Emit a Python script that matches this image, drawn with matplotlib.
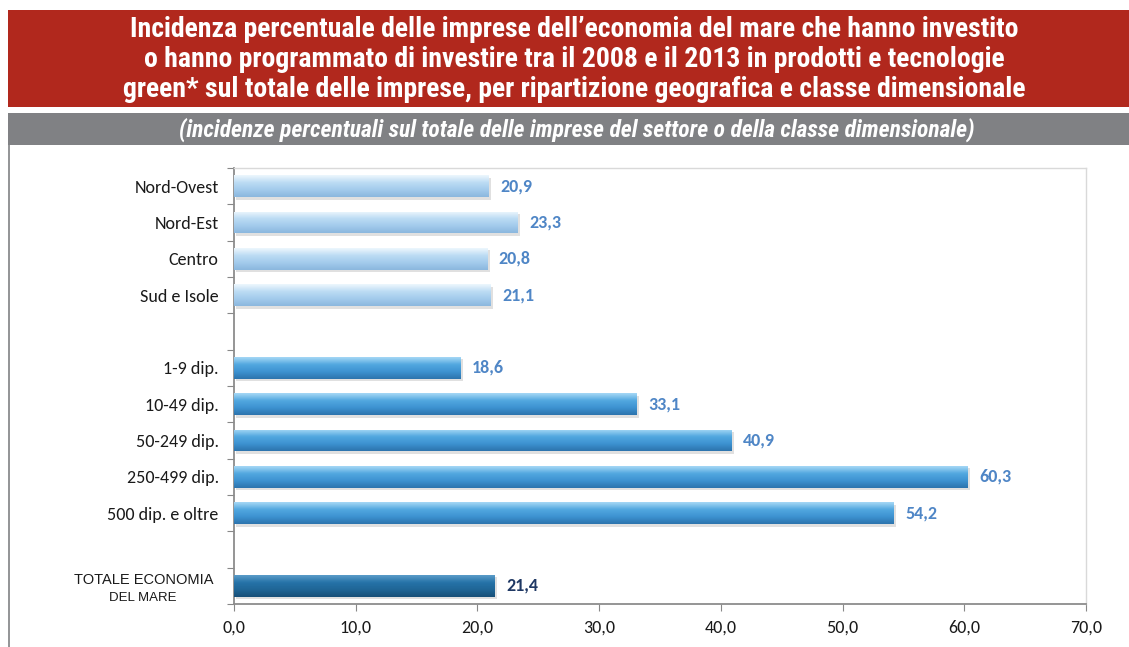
import matplotlib
matplotlib.use("Agg")
import matplotlib.pyplot as plt
import numpy as np
from matplotlib.patches import Rectangle
from matplotlib.colors import LinearSegmentedColormap
import matplotlib.transforms as mtransforms
import logging
logging.getLogger("matplotlib.font_manager").setLevel(logging.ERROR)

# ---- data ----
regions = ["Nord-Ovest", "Nord-Est", "Centro", "Sud e Isole"]
region_vals = [20.9, 23.3, 20.8, 21.1]
sizes = ["1-9 dip.", "10-49 dip.", "50-249 dip.", "250-499 dip.", "500 dip. e oltre"]
size_vals = [18.6, 33.1, 40.9, 60.3, 54.2]
total_label = ["TOTALE ECONOMIA", "DEL MARE"]
total_val = 21.4
x_ticks = [0, 10, 20, 30, 40, 50, 60, 70]

title = ("Incidenza percentuale delle imprese dell\u2019economia del mare che hanno investito\n"
         "o hanno programmato di investire tra il 2008 e il 2013 in prodotti e tecnologie\n"
         "green* sul totale delle imprese, per ripartizione geografica e classe dimensionale")
subtitle = "(incidenze percentuali sul totale delle imprese del settore o della classe dimensionale)"

W, H = 1129, 647
fig = plt.figure(figsize=(W / 100, H / 100), dpi=100)

# ---- banners ----
fig.patches.append(Rectangle((8 / W, 1 - 107 / H), 1 - 8 / W, 97 / H, transform=fig.transFigure,
                             facecolor="#b1281d", edgecolor="none", zorder=0))
fig.patches.append(Rectangle((8 / W, 1 - 145 / H), 1 - 8 / W, 32 / H, transform=fig.transFigure,
                             facecolor="#808184", edgecolor="none", zorder=0))
fig.lines.append(plt.Line2D([8.5 / W, 8.5 / W], [0, 1 - 145 / H], transform=fig.transFigure,
                            color="#808184", lw=1.2))
title_font = ["Roboto Condensed", "DejaVu Sans"]
fig.text(0.5 + 10 / W, 1 - 59.5 / H, title, ha="center", va="center", color="white",
         fontsize=20, fontweight="bold", family=title_font, linespacing=1.13)
fig.text(0.5 + 12 / W, 1 - 129.5 / H, subtitle, ha="center", va="center", color="white",
         fontsize=17, fontweight="bold", style="italic", family=title_font)

# ---- axes ----
ax = fig.add_axes([234 / W, 43 / H, (1086 - 234) / W, (604 - 168) / H])

body_font = ["Carlito", "Open Sans", "DejaVu Sans"]
labels = regions + [""] + sizes + [""] + [""]
n = len(labels)
pos_regions = list(range(len(regions)))
pos_sizes = [len(regions) + 1 + i for i in range(len(sizes))]
pos_total = len(regions) + 1 + len(sizes) + 1

groups = [
    (pos_regions, region_vals, ["#eef7fd", "#bcdcf4", "#a3cbec", "#8bb7de"], "#4f86c6"),
    (pos_sizes, size_vals, ["#a6d8f6", "#52a8e0", "#3d92d1", "#2c74ad"], "#4f86c6"),
    ([pos_total], [total_val], ["#5b9cc9", "#2673a8", "#1f6596", "#174f78"], "#1f3864"),
]

bh = 0.6
for pos, vals, cols, lblcol in groups:
    cmap = LinearSegmentedColormap.from_list("g", cols)
    grad = np.linspace(0, 1, 64).reshape(-1, 1)
    for p, v in zip(pos, vals):
        ax.barh(p + 0.07, v, height=bh, left=0.2, color="#000000", alpha=0.12, zorder=2, lw=0)
        bars = ax.barh(p, v, height=bh, color=cols[1], zorder=3, lw=0)
        b = bars[0]
        im = ax.imshow(grad, cmap=cmap, aspect="auto", zorder=4,
                       extent=[0, v, p + bh / 2, p - bh / 2], interpolation="bicubic")
        im.set_clip_path(b)
        ax.text(v + 0.95, p, f"{v:.1f}".replace(".", ","), va="center", ha="left",
                fontsize=13, fontweight="bold", color=lblcol, family=body_font)

ax.set_xlim(0, 70)
ax.set_ylim(n - 0.5, -0.5)
ax.set_xticks(x_ticks)
ax.set_xticklabels([f"{t:.1f}".replace(".", ",") for t in x_ticks])
ax.set_yticks(np.arange(n + 1) - 0.5)
ax.set_yticklabels([])
ax.set_yticks(np.arange(n), minor=True)
ax.set_yticklabels(labels, minor=True)
ax.tick_params(axis="y", which="minor", length=0, pad=11, labelsize=13, labelcolor="#1a1a1a")
ax.tick_params(axis="y", which="major", length=5, color="#888888", direction="out")
ax.tick_params(axis="x", length=5, color="#888888", direction="out", labelsize=13,
               labelcolor="#1a1a1a", pad=6)
for lab in ax.get_yticklabels(minor=True) + ax.get_xticklabels():
    lab.set_family(body_font)

trans = mtransforms.blended_transform_factory(fig.transFigure, ax.transData)
ax.text(144 / W, pos_total - 0.17, total_label[0], transform=trans, clip_on=False,
        ha="center", va="center", fontsize=10.5, color="#1a1a1a",
        family=["Liberation Sans", "DejaVu Sans"])
ax.text(143 / W, pos_total + 0.33, total_label[1], transform=trans, clip_on=False,
        ha="center", va="center", fontsize=9.5, color="#1a1a1a",
        family=["Liberation Sans", "DejaVu Sans"])

for s in ["left", "bottom"]:
    ax.spines[s].set_color("#8c8c8c")
    ax.spines[s].set_linewidth(1.3)
for s in ["top", "right"]:
    ax.spines[s].set_color("#d9d9d9")
    ax.spines[s].set_linewidth(1.0)

fig.savefig("out.png", dpi=100)
